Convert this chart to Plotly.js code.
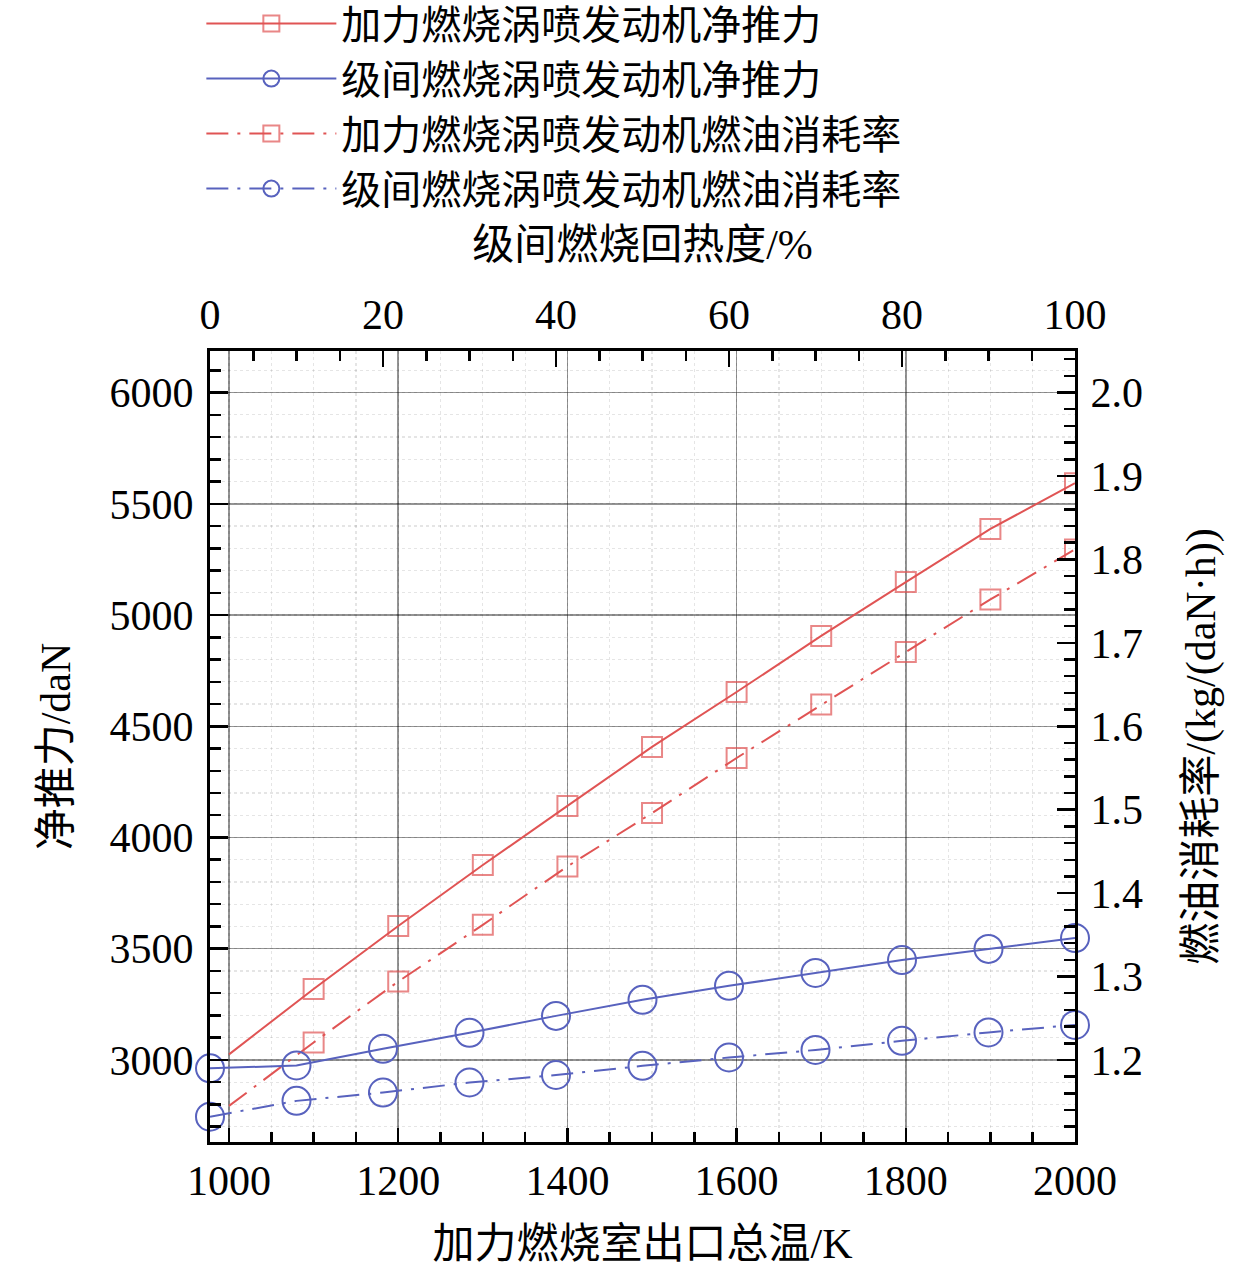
<!DOCTYPE html>
<html>
<head>
<meta charset="utf-8">
<script src="https://cdn.plot.ly/plotly-3.0.1.min.js"></script>
<style>
  html, body { margin: 0; padding: 0; background: #fff; }
  #chart { width: 1259px; height: 1274px; }
</style>
</head>
<body>
<div id="chart"></div>
<script>
// Afterburning turbojet, plotted against afterburner exit total temperature (K)
const tempK = [1000, 1100, 1200, 1300, 1400, 1500, 1600, 1700, 1800, 1900, 2000];
const abThrust = [3025, 3319, 3602, 3876, 4142, 4407, 4654, 4906, 5148, 5387, 5593];
const abSfc = [1.145, 1.221, 1.294, 1.362, 1.432, 1.496, 1.562, 1.626, 1.689, 1.752, 1.812];

// the two start squares sit left of the frame in the source figure
const abStartK = [969];
const abStartThrust = [2975];
const abStartSfc = [1.131];

// Inter-stage combustion turbojet, plotted against regeneration degree (%)
const regenPct = [0, 10, 20, 30, 40, 50, 60, 70, 80, 90, 100];
const isThrust = [2962, 2975, 3050, 3122, 3198, 3270, 3333, 3391, 3449, 3499, 3548];
const isSfc = [1.132, 1.151, 1.161, 1.173, 1.182, 1.193, 1.203, 1.212, 1.223, 1.233, 1.242];

const legendNames = [
  '加力燃烧涡喷发动机净推力',
  '级间燃烧涡喷发动机净推力',
  '加力燃烧涡喷发动机燃油消耗率',
  '级间燃烧涡喷发动机燃油消耗率'
];

const red = 'rgb(224, 84, 84)';
const blue = 'rgb(88, 98, 190)';
const dashDot = '22px,9px,3px,9px';
const FONT = 'Liberation Serif, Times New Roman, Noto Sans CJK SC, serif';

// no square on the 1000 K point, the line just starts there
const abSizes = tempK.map((t, i) => (i === 0 ? 0 : 20));

let data = [
  {
    x: tempK, y: abThrust, xaxis: 'x', yaxis: 'y',
    name: legendNames[0], type: 'scatter', mode: 'lines+markers',
    line: {color: red, width: 2},
    marker: {symbol: 'square-open', size: abSizes, color: red, line: {width: 2, color: red}},
    cliponaxis: true
  },
  {
    x: regenPct, y: isThrust, xaxis: 'x2', yaxis: 'y',
    name: legendNames[1], type: 'scatter', mode: 'lines+markers',
    line: {color: blue, width: 2},
    marker: {symbol: 'circle-open', size: 28, color: blue, line: {width: 2, color: blue}},
    cliponaxis: false
  },
  {
    x: tempK, y: abSfc, xaxis: 'x', yaxis: 'y2',
    name: legendNames[2], type: 'scatter', mode: 'lines+markers',
    line: {color: red, width: 2, dash: dashDot},
    marker: {symbol: 'square-open', size: abSizes, color: red, line: {width: 2, color: red}},
    cliponaxis: true
  },
  {
    x: regenPct, y: isSfc, xaxis: 'x2', yaxis: 'y2',
    name: legendNames[3], type: 'scatter', mode: 'lines+markers',
    line: {color: blue, width: 2, dash: dashDot},
    marker: {symbol: 'circle-open', size: 28, color: blue, line: {width: 2, color: blue}},
    cliponaxis: false
  },
  {
    x: abStartK, y: abStartThrust, xaxis: 'x', yaxis: 'y',
    type: 'scatter', mode: 'markers', showlegend: false, hoverinfo: 'skip',
    marker: {symbol: 'square-open', size: 20, color: red, line: {width: 2, color: red}},
    cliponaxis: false
  },
  {
    x: abStartK, y: abStartSfc, xaxis: 'x', yaxis: 'y2',
    type: 'scatter', mode: 'markers', showlegend: false, hoverinfo: 'skip',
    marker: {symbol: 'square-open', size: 20, color: red, line: {width: 2, color: red}},
    cliponaxis: false
  }
];

const tickFont = {family: FONT, size: 42, color: '#000'};
const titleFont = {family: FONT, size: 42, color: '#000'};

let layout = {
  width: 1259,
  height: 1274,
  margin: {l: 210, r: 184, t: 351, b: 132, autoexpand: false},
  paper_bgcolor: '#fff',
  plot_bgcolor: '#fff',
  showlegend: true,
  legend: {
    x: -0.01, y: 1.455, xanchor: 'left', yanchor: 'top',
    font: {family: FONT, size: 40, color: '#000'},
    bgcolor: 'rgba(0,0,0,0)', itemsizing: 'trace', itemwidth: 130,
    tracegroupgap: 0
  },
  xaxis: {
    range: [977.5, 2000],
    tickvals: [1000, 1200, 1400, 1600, 1800, 2000],
    ticks: 'inside', ticklen: 14, tickwidth: 2.5, tickcolor: '#000',
    showline: true, linewidth: 3, linecolor: '#000',
    showgrid: true, gridcolor: 'rgba(0,0,0,0.42)', gridwidth: 1.5,
    zeroline: false,
    minor: {dtick: 50, ticks: 'inside', ticklen: 10, tickwidth: 2.5, tickcolor: '#000',
            showgrid: true, gridcolor: 'rgba(0,0,0,0.1)', griddash: 'dot', gridwidth: 1.2},
    tickfont: tickFont,
    title: {text: '加力燃烧室出口总温/K', font: titleFont, standoff: 26}
  },
  xaxis2: {
    overlaying: 'x', side: 'top',
    range: [0, 100],
    tickvals: [0, 20, 40, 60, 80, 100],
    ticks: 'inside', ticklen: 16, tickwidth: 2.5, tickcolor: '#000',
    ticklabelstandoff: 2,
    showline: true, linewidth: 3, linecolor: '#000',
    showgrid: false, zeroline: false,
    minor: {dtick: 5, ticks: 'inside', ticklen: 10, tickwidth: 2.5, tickcolor: '#000', showgrid: false},
    tickfont: tickFont,
    title: {text: '级间燃烧回热度/%', font: titleFont, standoff: 20}
  },
  yaxis: {
    range: [2631, 6187],
    tickvals: [3000, 3500, 4000, 4500, 5000, 5500, 6000],
    ticks: 'inside', ticklen: 18, tickwidth: 2.5, tickcolor: '#000',
    ticklabelstandoff: 5,
    showline: true, linewidth: 3, linecolor: '#000',
    showgrid: true, gridcolor: 'rgba(0,0,0,0.42)', gridwidth: 1.5,
    zeroline: false,
    minor: {dtick: 100, ticks: 'inside', ticklen: 11, tickwidth: 2.5, tickcolor: '#000',
            showgrid: true, gridcolor: 'rgba(0,0,0,0.1)', griddash: 'dot', gridwidth: 1.2},
    tickfont: tickFont,
    title: {text: '净推力/daN', font: titleFont, standoff: 26}
  },
  yaxis2: {
    overlaying: 'y', side: 'right',
    range: [1.1017, 2.0498],
    tickvals: [1.1, 1.2, 1.3, 1.4, 1.5, 1.6, 1.7, 1.8, 1.9, 2.0],
    tickformat: '.1f',
    ticks: 'inside', ticklen: 18, tickwidth: 2.5, tickcolor: '#000',
    ticklabelstandoff: 4,
    showline: true, linewidth: 3, linecolor: '#000',
    showgrid: false, zeroline: false,
    minor: {dtick: 0.02, ticks: 'inside', ticklen: 11, tickwidth: 2.5, tickcolor: '#000', showgrid: false},
    tickfont: tickFont,
    title: {text: '燃油消耗率/(kg/(daN·h))', font: titleFont, standoff: 44}
  }
};

Plotly.newPlot('chart', data, layout, {displayModeBar: false, staticPlot: true});
</script>
</body>
</html>
